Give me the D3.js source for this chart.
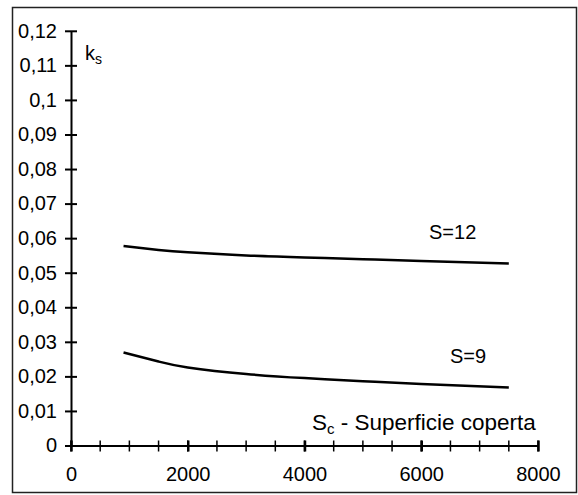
<!DOCTYPE html>
<html>
<head>
<meta charset="utf-8">
<script src="https://cdn.jsdelivr.net/npm/d3@7"></script>
<style>
  body { margin: 0; background: #fff; }
  text { font-family: "Liberation Sans", Arial, sans-serif; fill: #000; }
</style>
</head>
<body>
<svg id="chart" width="578" height="495"></svg>
<script>
// data
var scValues = [900, 1500, 2000, 3000, 4000, 5000, 6000, 7500];
var ks12 = [0.0577, 0.0566, 0.0559, 0.0550, 0.0544, 0.0539, 0.0534, 0.0527];
var ks9 = [0.0269, 0.0243, 0.0226, 0.0207, 0.0195, 0.0186, 0.0178, 0.0168];
var yTicks = [0, 0.01, 0.02, 0.03, 0.04, 0.05, 0.06, 0.07, 0.08, 0.09, 0.1, 0.11, 0.12];
var xMajor = [0, 2000, 4000, 6000, 8000];
var xMinor = d3.range(0, 8001, 500);

var svg = d3.select("#chart");

// outer frame
svg.append("rect")
  .attr("x", 12.5).attr("y", 7.5)
  .attr("width", 564).attr("height", 485)
  .attr("fill", "none")
  .attr("stroke", "#222")
  .attr("stroke-width", 1.5);

var x = d3.scaleLinear().domain([0, 8000]).range([71, 538]);
var y = d3.scaleLinear().domain([0, 0.12]).range([445.5, 30.8]);

var comma = function(d) { return String(d).replace(".", ","); };

// y axis
var yAxis = svg.append("g")
  .attr("transform", "translate(" + x(0) + ",0)")
  .call(d3.axisLeft(y).tickValues(yTicks).tickFormat(comma).tickSize(6).tickPadding(8).tickSizeOuter(0));
yAxis.select(".domain").attr("stroke", "#000").attr("stroke-width", 2);
yAxis.selectAll(".tick line").attr("x1", -6).attr("x2", 6).attr("stroke", "#000").attr("stroke-width", 2);
yAxis.selectAll(".tick text").style("font-size", "20px").attr("font-family", null);

// x axis minor ticks
svg.append("g")
  .selectAll("line")
  .data(xMinor)
  .enter()
  .append("line")
  .attr("x1", function(d) { return x(d); })
  .attr("x2", function(d) { return x(d); })
  .attr("y1", y(0) - 5)
  .attr("y2", y(0) + 6)
  .attr("stroke", "#000")
  .attr("stroke-width", 1.5);

// x axis
var xAxis = svg.append("g")
  .attr("transform", "translate(0," + y(0) + ")")
  .call(d3.axisBottom(x).tickValues(xMajor).tickFormat(d3.format("d")).tickSize(6).tickPadding(15).tickSizeOuter(0));
xAxis.select(".domain").attr("stroke", "#000").attr("stroke-width", 2);
xAxis.selectAll(".tick line").attr("y1", -5).attr("y2", 6).attr("stroke", "#000").attr("stroke-width", 2.5);
xAxis.selectAll(".tick text").style("font-size", "20px").attr("font-family", null);

// curves
var line = d3.line()
  .x(function(d) { return x(d[0]); })
  .y(function(d) { return y(d[1]); })
  .curve(d3.curveNatural);

[ks12, ks9].forEach(function(series) {
  svg.append("path")
    .datum(d3.zip(scValues, series))
    .attr("d", line)
    .attr("fill", "none")
    .attr("stroke", "#000")
    .attr("stroke-width", 2.5);
});

// labels
svg.append("text").attr("x", 429).attr("y", 239).style("font-size", "20px").text("S=12");
svg.append("text").attr("x", 450).attr("y", 363).style("font-size", "20px").text("S=9");

var ks = svg.append("text").attr("x", 85).attr("y", 60).style("font-size", "20px");
ks.append("tspan").text("k");
ks.append("tspan").attr("dy", 4).style("font-size", "14px").text("s");

var sc = svg.append("text").attr("x", 312).attr("y", 430).style("font-size", "22.5px");
sc.append("tspan").text("S");
sc.append("tspan").attr("dy", 4).style("font-size", "15px").text("c");
sc.append("tspan").attr("dy", -4).text(" - Superficie coperta");
</script>
</body>
</html>
